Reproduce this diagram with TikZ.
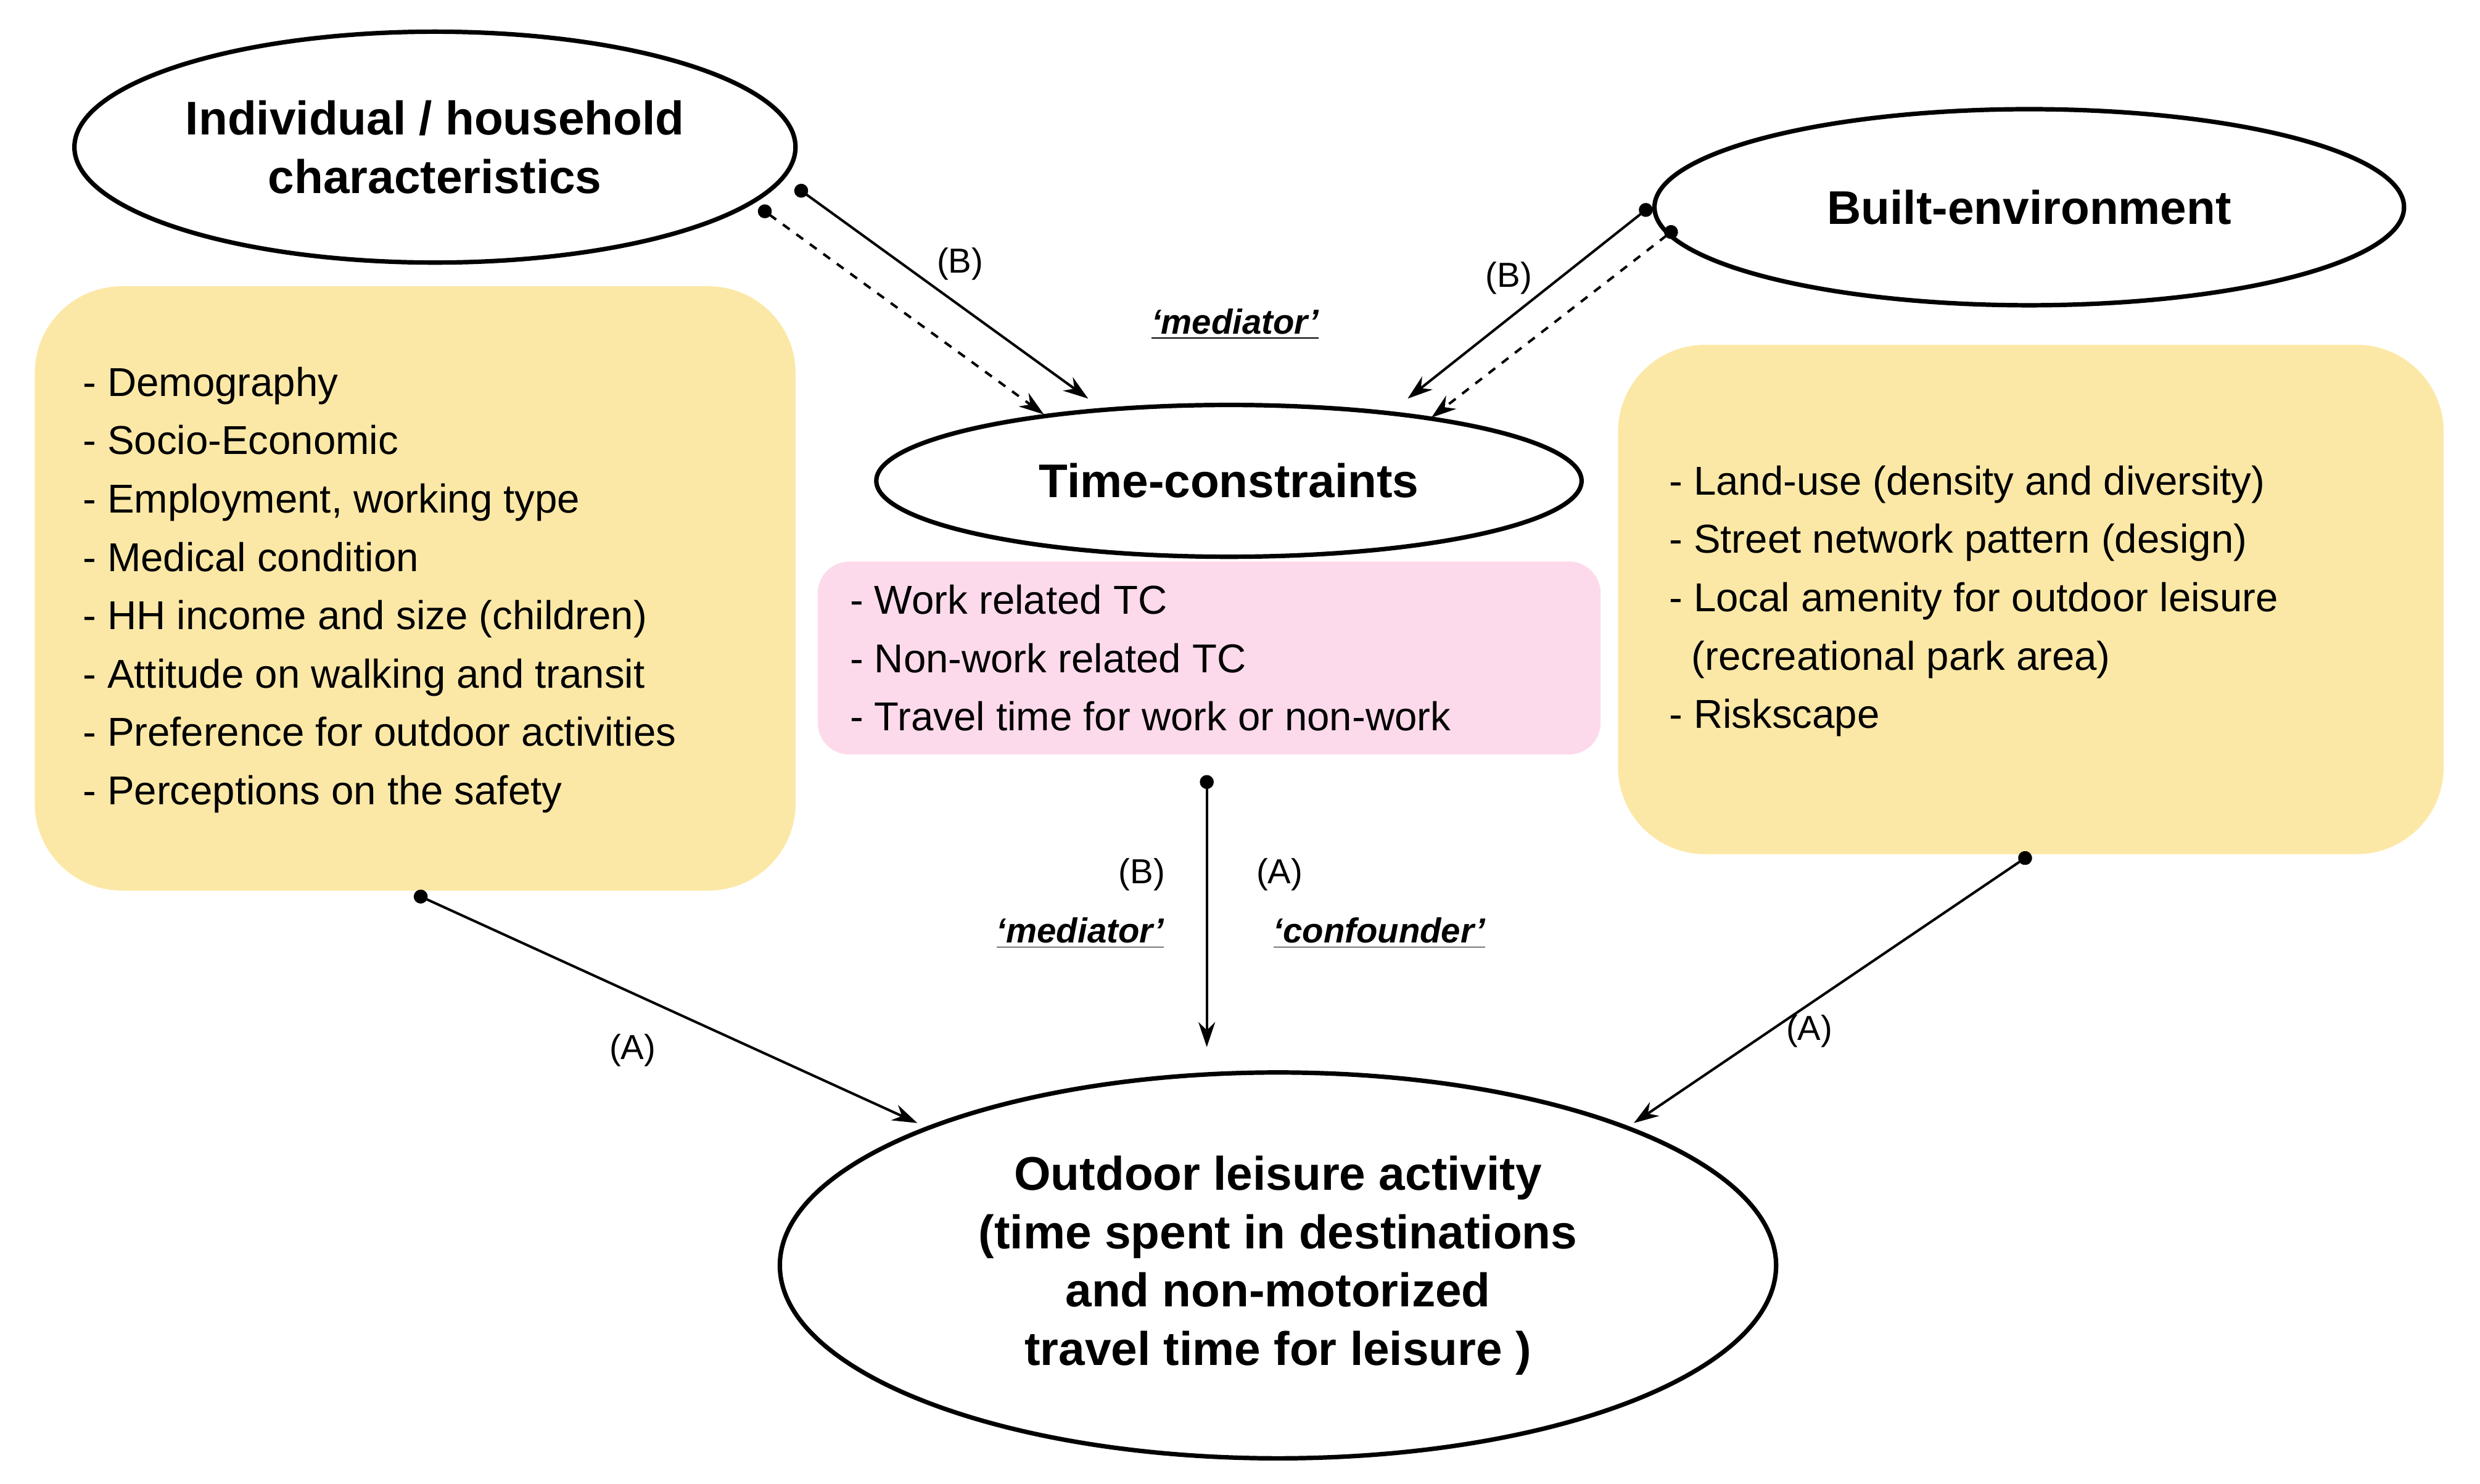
\documentclass[tikz,border=0pt]{standalone}
\usepackage{fontspec}
\setmainfont{Liberation Sans}
\usetikzlibrary{arrows.meta,shapes.geometric}
\definecolor{yel}{HTML}{FCE8A6}
\definecolor{pnk}{HTML}{FDDAEB}
\begin{document}
\begin{tikzpicture}[x=0.02cm,y=-0.02cm,
 ell/.style={ellipse,draw,line width=1.6pt,inner sep=0pt,font=\fontsize{17}{21}\selectfont\bfseries,align=center},
 box/.style={rounded corners=1.1cm,inner sep=0pt},
 lst/.style={anchor=west,align=left,font=\fontsize{14.5}{21}\selectfont,inner sep=0pt},
 lab/.style={font=\fontsize{12.5}{15}\selectfont},
 med/.style={font=\fontsize{12.5}{15}\selectfont\bfseries\itshape},
 arr/.style={{Circle[length=5pt]}-{Stealth[length=9pt,width=6pt]},line width=0.9pt}]
\useasboundingbox (0,0) rectangle (1568,938);
\fill[yel,rounded corners=1.1cm] (22,181) rectangle (503,563);
\fill[yel,rounded corners=1.1cm] (1023,218) rectangle (1545,540);
\fill[pnk,rounded corners=0.4cm] (517,355) rectangle (1012,477);
\node[ell,minimum width=9.12cm,minimum height=2.92cm] (ind) at (275,93) {Individual / household\\characteristics};
\node[ell,minimum width=9.48cm,minimum height=2.48cm] (be) at (1283,131) {Built-environment};
\node[ell,minimum width=8.92cm,minimum height=1.92cm] (tc) at (777,304) {Time-constraints};
\node[ell,minimum width=12.6cm,minimum height=4.88cm] (out) at (808,800) {Outdoor leisure activity\\(time spent in destinations\\and non-motorized\\travel time for leisure )};
\node[lst] (l) at (52,373) {- Demography\\- Socio-Economic\\- Employment, working type\\- Medical condition\\- HH income and size (children)\\- Attitude on walking and transit\\- Preference for outdoor activities\\- Perceptions on the safety};
\node[lst] (r) at (1055,380) {- Land-use (density and diversity)\\- Street network pattern (design)\\- Local amenity for outdoor leisure\\\ \ (recreational park area)\\- Riskscape};
\node[lst] (p) at (537,416) {- Work related TC\\- Non-work related TC\\- Travel time for work or non-work};
\coordinate (a1) at (503,118); \coordinate (a2) at (688,252);
\coordinate (b1) at (480,131); \coordinate (b2) at (660,262);
\coordinate (c1) at (1044,130); \coordinate (c2) at (890,252);
\coordinate (d1) at (1060,144); \coordinate (d2) at (905,264);
\coordinate (e1) at (763,490); \coordinate (e2) at (763,662);
\coordinate (f1) at (262,565); \coordinate (f2) at (580,710);
\coordinate (g1) at (1284,540); \coordinate (g2) at (1033,710);
\draw[arr] (a1) -- (a2);
\draw[arr,dashed] (b1) -- (b2);
\draw[arr] (c1) -- (c2);
\draw[arr,dashed] (d1) -- (d2);
\draw[arr] (e1) -- (e2);
\draw[arr] (f1) -- (f2);
\draw[arr] (g1) -- (g2);
\node[lab] at (607,167) {(B)};
\node[lab] at (954,176) {(B)};
\node[med] at (781,205) {\underline{‘mediator’}};
\node[lab] at (722,553) {(B)};
\node[lab] at (809,553) {(A)};
\node[med] at (683,590) {\underline{‘mediator’}};
\node[med] at (872,590) {\underline{‘confounder’}};
\node[lab] at (400,664) {(A)};
\node[lab] at (1144,652) {(A)};
\end{tikzpicture}
\end{document}
